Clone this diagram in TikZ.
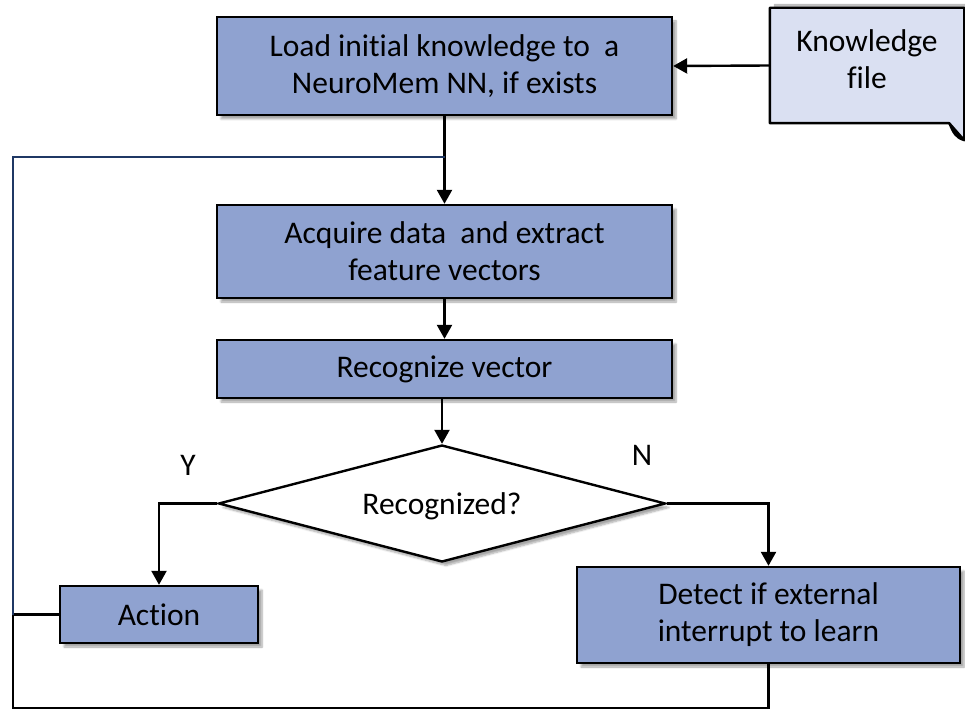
\documentclass[tikz,border=0pt]{standalone}
\usepackage{fontspec}
\setmainfont{Carlito}[Ligatures=NoCommon]
\usetikzlibrary{arrows.meta,shapes.geometric,shadows.blur}
\definecolor{boxfill}{RGB}{143,162,208}
\definecolor{filefill}{RGB}{218,224,242}
\definecolor{loopblue}{RGB}{31,56,100}
\tikzset{
  txt/.style={font=\fontsize{31.5}{37}\selectfont},
  procbox/.style={txt, draw=black, line width=2.4pt, fill=boxfill, inner sep=0pt,
    align=center,
    blur shadow={shadow xshift=4pt, shadow yshift=-4pt, shadow blur steps=6, shadow opacity=35}},
  decide/.style={txt, diamond, draw=black, line width=2.4pt, fill=white, inner sep=0pt,
    blur shadow={shadow xshift=4pt, shadow yshift=-4pt, shadow blur steps=6, shadow opacity=35}},
  wire/.style={line width=2.4pt, draw=black},
  flow/.style={wire, -{Triangle[length=14pt,width=15pt]}},
  lbl/.style={txt}
}
\begin{document}
\begin{tikzpicture}[x=1pt, y=-1pt]
\useasboundingbox (0,0) rectangle (965,711);

% process steps
\node[procbox, minimum width=455pt, minimum height=98pt] (load) at (444.5,66)
  {Load initial knowledge to \ a\\NeuroMem NN, if exists};
\node[procbox, minimum width=455pt, minimum height=93pt] (acq) at (444.5,251.5)
  {Acquire data \ and extract\\feature vectors};
\node[procbox, minimum width=455pt, minimum height=58pt] (rec) at (444.5,369)
  {Recognize vector};
\node[decide, minimum width=447pt, minimum height=117pt] (dia) at (442,503.5)
  {};
\node[txt] (diatext) at (442,506) {Recognized?};
\node[procbox, minimum width=198pt, minimum height=57pt] (act) at (159,614.5)
  {Action};
\node[procbox, minimum width=383pt, minimum height=96pt] (det) at (768.5,615)
  {Detect if external\\interrupt to learn};

% knowledge file with folded corner
\node[minimum width=194pt, minimum height=115pt, inner sep=0pt] (kf) at (867,65.5) {};
\fill[black, opacity=0.25] ([shift={(4pt,4pt)}]kf.north west) -- ([shift={(4pt,4pt)}]kf.north east)
  -- ([shift={(4pt,-13pt)}]kf.south east) -- ([shift={(-11pt,4pt)}]kf.south east)
  -- ([shift={(4pt,4pt)}]kf.south west) -- cycle;
\filldraw[fill=filefill, draw=black, line width=2.4pt, line join=round]
  (kf.north west) -- (kf.north east) -- ([yshift=-17pt]kf.south east)
  -- ([xshift=-15pt]kf.south east) -- (kf.south west) -- cycle;
\draw[black, line width=2pt, line join=round, fill=filefill!80!gray]
  ([xshift=-15pt]kf.south east) .. controls ([shift={(-11pt,-10pt)}]kf.south east)
  and ([shift={(-8pt,-15pt)}]kf.south east) .. ([yshift=-17pt]kf.south east)
  -- ([shift={(-7pt,-12pt)}]kf.south east) -- cycle;
\node[txt, align=center] (kftext) at (867,59) {Knowledge\\file};

% loop-back junction points
\coordinate (join) at (load.south |- 0,157);
\coordinate (tl) at (13,157);
\coordinate (ml) at (13,614.5);
\coordinate (bl) at (13,708);

% connectors
\draw[flow] (kf.west) -- (load.east);
\draw[flow] (load.south) -- (acq.north);
\draw[flow] (acq.south) -- (rec.north);
\draw[flow] (dia.north |- rec.south) -- (dia.north);
\draw[flow] (dia.west) -| (act.north);
\draw[flow] (dia.east) -| (det.north);
\draw[wire] (act.west) -- (ml);
\draw[wire] (det.south) |- (bl) -- (ml);
\draw[line width=2.4pt, draw=loopblue] (join) -- (tl) -- (ml);

% branch labels
\node[lbl] (ylbl) at (188,465) {Y};
\node[lbl] (nlbl) at (642,455) {N};
\end{tikzpicture}
\end{document}
